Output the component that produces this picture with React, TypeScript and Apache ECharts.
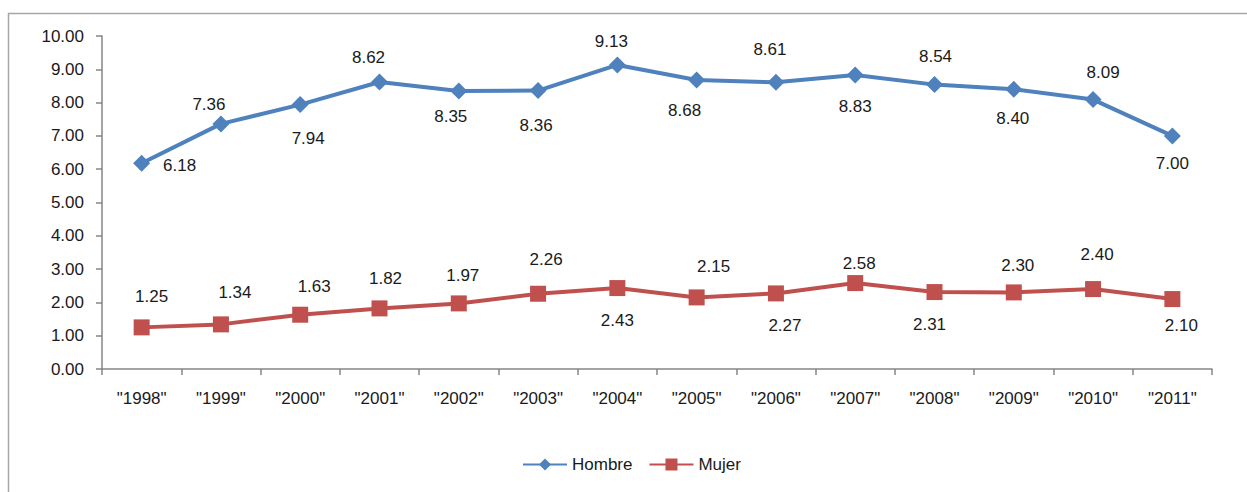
import React, { useEffect, useRef } from "react";
import * as echarts from "echarts";

const categories = ['"1998"', '"1999"', '"2000"', '"2001"', '"2002"', '"2003"', '"2004"', '"2005"', '"2006"', '"2007"', '"2008"', '"2009"', '"2010"', '"2011"'];
const hombre = [6.18, 7.36, 7.94, 8.62, 8.35, 8.36, 9.13, 8.68, 8.61, 8.83, 8.54, 8.40, 8.09, 7.00];
const mujer = [1.25, 1.34, 1.63, 1.82, 1.97, 2.26, 2.43, 2.15, 2.27, 2.58, 2.31, 2.30, 2.40, 2.10];

// data-label placement relative to each marker (dx, dy), as in the reference
const hombreLabelOffsets = [[38, 2], [-12, -19], [8, 34], [-11, -24], [-8, 26], [-2, 35], [-6, -23], [-12, 31], [-6, -33], [0, 32], [1, -28], [-1, 29], [10, -27], [0, 28]];
const mujerLabelOffsets = [[10, -31], [14, -32], [14, -28], [6, -30], [4, -28], [8, -34], [0, 32], [17, -31], [9, 32], [4, -20], [-5, 32], [4, -27], [4, -35], [9, 26]];

const FONT = "Liberation Sans";
const BLUE = "#4F81BD";
const RED = "#C0504D";
const TEXT = "#1a1a1a";

function labelFor(off: number[]) {
  return {
    show: true,
    position: "inside",
    offset: off,
    color: TEXT,
    fontFamily: FONT,
    fontSize: 17,
    formatter: (p: any) => Number(p.value).toFixed(2),
  };
}

export default function App() {
  const ref = useRef<HTMLDivElement>(null);
  useEffect(() => {
    document.body.style.margin = "0";
    const chart = echarts.init(ref.current!, null, { renderer: "svg" });
    chart.setOption({
      animation: false,
      backgroundColor: "#ffffff",
      textStyle: { fontFamily: FONT },
      graphic: [
        {
          type: "rect",
          shape: { x: 8.5, y: 13.5, width: 1260, height: 500 },
          style: { fill: "none", stroke: "#a6a6a6", lineWidth: 1.5 },
          silent: true,
        },
      ],
      grid: { left: 102, top: 36, right: 35, bottom: 123 },
      legend: {
        left: 517,
        top: 451,
        itemWidth: 44,
        itemHeight: 15,
        itemGap: 16,
        textStyle: { fontFamily: FONT, fontSize: 17, color: TEXT },
        data: ["Hombre", "Mujer"],
      },
      xAxis: {
        type: "category",
        data: categories,
        boundaryGap: true,
        axisLine: { lineStyle: { color: "#868686", width: 1.5 } },
        axisTick: { show: true, length: 6, inside: false, lineStyle: { color: "#868686", width: 1.5 } },
        axisLabel: { color: TEXT, fontFamily: FONT, fontSize: 17, margin: 21, interval: 0 },
        splitLine: { show: false },
      },
      yAxis: {
        type: "value",
        min: 0,
        max: 10,
        interval: 1,
        axisLine: { show: true, lineStyle: { color: "#868686", width: 1.5 } },
        axisTick: { show: true, length: 6, lineStyle: { color: "#868686", width: 1.5 } },
        axisLabel: {
          color: TEXT,
          fontFamily: FONT,
          fontSize: 17,
          margin: 18,
          formatter: (v: number) => v.toFixed(2),
        },
        splitLine: { show: false },
      },
      series: [
        {
          name: "Hombre",
          type: "line",
          data: hombre.map((v, i) => ({ value: v, label: labelFor(hombreLabelOffsets[i]) })),
          symbol: "diamond",
          symbolSize: 17,
          showAllSymbol: true,
          lineStyle: { color: BLUE, width: 4 },
          itemStyle: { color: BLUE },
        },
        {
          name: "Mujer",
          type: "line",
          data: mujer.map((v, i) => ({ value: v, label: labelFor(mujerLabelOffsets[i]) })),
          symbol: "rect",
          symbolSize: 16,
          showAllSymbol: true,
          lineStyle: { color: RED, width: 4 },
          itemStyle: { color: RED },
        },
      ],
    });
    return () => chart.dispose();
  }, []);
  return <div ref={ref} style={{ width: 1247, height: 492 }} />;
}
